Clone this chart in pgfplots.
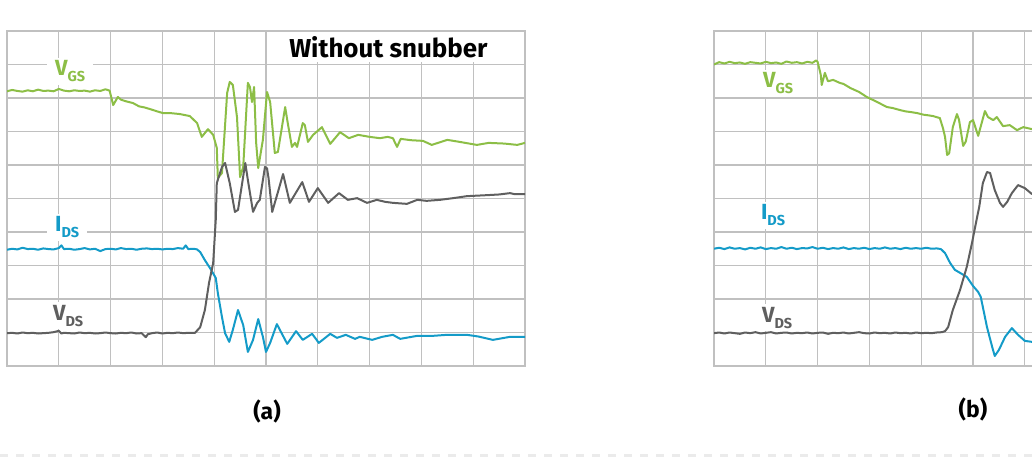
\documentclass[border=0pt]{standalone}
\usepackage{fontspec}
\setmainfont{Fira Sans}
\usepackage{pgfplots}
\pgfplotsset{compat=1.18}
\definecolor{vgs}{RGB}{140,190,70}
\definecolor{ids}{RGB}{20,155,200}
\definecolor{vds}{RGB}{95,95,95}
\definecolor{gridc}{RGB}{192,192,192}
\pgfplotsset{scopeax/.style={
  anchor=south west, width=518bp, height=335bp, scale only axis,
  xmin=0, xmax=10, ymin=0, ymax=10,
  xtick={0,...,10}, ytick={0,...,10},
  xticklabels={}, yticklabels={}, major tick length=0pt,
  grid=major, grid style={gridc, line width=1.2bp},
  axis line style={gridc, line width=1.2bp},
  every axis plot/.append style={line width=2bp, line join=round},
}}
\newcommand{\lab}[2]{{\bfseries\fontsize{22}{22}\selectfont #1\raisebox{-6bp}{\fontsize{14.5}{14.5}\selectfont #2}}}
\begin{document}
\begin{tikzpicture}
\useasboundingbox (0,0) rectangle (1032bp,459bp);
\clip (0,0) rectangle (1032bp,459bp);
\draw[black!8, line width=3bp, dash pattern=on 8bp off 8bp] (0,3bp) -- (1032bp,3bp);
% ---------------- panel (a)
\begin{axis}[scopeax, at={(7bp,93bp)}]
\addplot[vgs] coordinates {(0,8.20)(0.1,8.24)(0.2,8.21)(0.3,8.19)(0.4,8.23)(0.5,8.20)(0.6,8.25)(0.7,8.21)(0.8,8.22)(0.9,8.20)(1.0,8.27)(1.1,8.22)(1.2,8.20)(1.3,8.23)(1.4,8.21)(1.5,8.22)(1.6,8.19)(1.7,8.23)(1.8,8.21)(1.9,8.26)(1.98,8.22)
(2.05,7.79)(2.14,8.03)(2.2,7.95)(2.3,7.9)(2.43,7.85)(2.55,7.75)(2.65,7.72)(2.76,7.67)(2.9,7.6)(3.01,7.55)(3.15,7.55)(3.34,7.52)(3.53,7.46)(3.67,7.25)(3.76,6.84)(3.88,7.07)(3.98,6.9)(4.05,6.51)(4.07,5.61)(4.15,5.76)(4.25,8.15)(4.3,8.48)(4.36,8.39)(4.44,7.43)(4.5,5.64)(4.56,5.94)(4.65,8.45)(4.69,8.33)(4.73,7.88)(4.77,8.33)(4.81,6.66)(4.85,5.91)(4.94,6.75)(5.02,8.18)(5.08,7.88)(5.17,6.36)(5.23,6.39)(5.37,7.73)(5.42,7.25)(5.5,6.54)(5.56,6.66)(5.6,6.54)(5.71,7.25)(5.75,7.19)(5.81,6.69)(5.91,6.9)(6.08,7.13)(6.24,6.63)(6.43,6.98)(6.6,6.8)(6.78,6.9)(7.0,6.84)(7.2,6.8)(7.35,6.84)(7.45,6.8)(7.53,6.54)(7.6,6.78)(7.8,6.74)(8.03,6.72)(8.2,6.6)(8.5,6.75)(8.7,6.7)(9.07,6.6)(9.3,6.66)(9.6,6.64)(9.85,6.6)(10,6.66)};
\addplot[ids] coordinates {(0,3.47)(0.1,3.5)(0.2,3.48)(0.3,3.53)(0.4,3.49)(0.5,3.5)(0.6,3.47)(0.7,3.51)(0.8,3.49)(0.9,3.48)(1.0,3.52)(1.05,3.6)(1.1,3.49)(1.2,3.5)(1.3,3.47)(1.4,3.49)(1.5,3.52)(1.6,3.48)(1.7,3.5)(1.8,3.43)(1.9,3.49)(2.0,3.5)(2.1,3.48)(2.2,3.52)(2.3,3.49)(2.4,3.5)(2.5,3.47)(2.6,3.5)(2.7,3.51)(2.8,3.49)(2.9,3.5)(3.0,3.48)(3.1,3.5)(3.2,3.49)(3.3,3.52)(3.4,3.5)(3.45,3.6)(3.5,3.49)(3.6,3.5)(3.67,3.48)
(3.73,3.4)(3.82,3.16)(3.92,2.92)(4.03,2.63)(4.07,2.18)(4.15,1.46)(4.21,0.98)(4.29,0.72)(4.36,1.08)(4.46,1.67)(4.56,1.22)(4.65,0.42)(4.75,0.78)(4.85,1.4)(4.94,0.87)(5.0,0.42)(5.08,0.69)(5.21,1.25)(5.41,0.66)(5.58,1.04)(5.71,0.78)(5.89,0.96)(6.02,0.69)(6.24,0.96)(6.37,0.84)(6.54,0.93)(6.72,0.81)(6.81,0.87)(7.05,0.78)(7.24,0.87)(7.45,0.93)(7.59,0.81)(7.92,0.9)(8.22,0.9)(8.49,0.93)(8.88,0.93)(9.1,0.88)(9.38,0.78)(9.71,0.87)(10,0.87)};
\addplot[vds] coordinates {(0,0.98)(0.1,0.99)(0.2,0.97)(0.3,1.0)(0.4,0.98)(0.5,0.99)(0.6,0.97)(0.7,0.98)(0.8,0.99)(0.9,1.01)(1.0,1.05)(1.05,0.97)(1.1,0.99)(1.2,0.98)(1.3,0.97)(1.4,1.0)(1.5,0.98)(1.6,0.99)(1.7,0.97)(1.8,0.98)(1.9,1.0)(2.0,0.98)(2.1,0.97)(2.2,0.99)(2.3,0.98)(2.4,1.0)(2.5,0.97)(2.6,0.98)(2.68,0.86)(2.72,0.95)(2.8,0.98)(2.9,1.0)(3.0,0.97)(3.1,0.99)(3.2,0.98)(3.3,1.0)(3.4,0.98)(3.5,0.99)(3.63,0.99)
(3.73,1.16)(3.82,1.67)(3.9,2.48)(3.98,3.07)(4.03,4.36)(4.05,5.46)(4.15,5.94)(4.21,6.06)(4.3,5.46)(4.4,4.6)(4.46,4.66)(4.6,6.06)(4.65,5.55)(4.75,4.6)(4.83,4.87)(4.88,4.96)(4.98,5.94)(5.02,5.9)(5.05,5.6)(5.12,4.6)(5.33,5.73)(5.46,4.87)(5.7,5.49)(5.83,4.9)(6.0,5.31)(6.2,4.87)(6.41,5.16)(6.58,4.96)(6.76,5.01)(6.95,4.87)(7.14,4.96)(7.3,4.9)(7.45,4.87)(7.72,4.84)(7.92,4.96)(8.1,4.93)(8.36,4.96)(8.61,5.01)(8.88,5.07)(9.27,5.1)(9.5,5.12)(9.71,5.16)(9.8,5.13)(10,5.13)};
\node[anchor=base west, fill=white, inner xsep=8bp, inner ysep=3bp, text=vgs] at (axis cs:0.77,8.66) {\lab{V}{GS}};
\node[anchor=base west, fill=white, inner xsep=8bp, inner ysep=3bp, text=ids] at (axis cs:0.77,4.0) {\lab{I}{DS}};
\node[anchor=base west, fill=white, inner xsep=8bp, inner ysep=3bp, text=vds] at (axis cs:0.73,1.37) {\lab{V}{DS}};
\node[anchor=base west, fill=white, inner xsep=6bp, inner ysep=4bp] at (axis cs:5.33,9.22) {\fontsize{26}{26}\selectfont\bfseries Without snubber};
\end{axis}
% ---------------- panel (b)
\begin{axis}[scopeax, at={(714bp,93bp)}]
\addplot[vgs] coordinates {(0,9.0)(0.1,9.07)(0.2,9.03)(0.3,9.08)(0.4,9.04)(0.5,9.06)(0.6,9.02)(0.7,9.07)(0.8,9.05)(0.9,9.03)(1.0,9.08)(1.1,9.04)(1.2,9.06)(1.3,9.02)(1.4,9.09)(1.5,9.05)(1.6,9.07)(1.7,9.03)(1.8,9.08)(1.9,9.05)(1.97,9.12)(2.0,9.08)
(2.06,8.7)(2.08,8.39)(2.14,8.75)(2.2,8.5)(2.3,8.54)(2.43,8.45)(2.5,8.42)(2.63,8.3)(2.7,8.25)(2.8,8.18)(2.95,8.03)(3.07,7.94)(3.15,7.88)(3.25,7.8)(3.34,7.73)(3.45,7.7)(3.59,7.64)(3.7,7.6)(3.8,7.58)(3.92,7.55)(4.05,7.5)(4.15,7.48)(4.23,7.46)(4.36,7.4)(4.42,7.1)(4.46,6.84)(4.5,6.3)(4.54,6.35)(4.61,7.13)(4.69,7.52)(4.73,7.35)(4.81,6.57)(4.86,6.7)(4.94,7.28)(5.0,7.34)(5.1,6.87)(5.23,7.61)(5.29,7.43)(5.39,7.34)(5.46,7.43)(5.58,7.16)(5.71,7.19)(5.85,7.04)(5.97,7.13)(6.14,7.07)};
\addplot[ids] coordinates {(0,3.5)(0.1,3.53)(0.2,3.49)(0.3,3.54)(0.4,3.5)(0.5,3.52)(0.6,3.48)(0.7,3.53)(0.8,3.5)(0.9,3.54)(1.0,3.49)(1.1,3.52)(1.2,3.5)(1.3,3.55)(1.4,3.5)(1.5,3.53)(1.6,3.49)(1.7,3.52)(1.8,3.51)(1.9,3.55)(2.0,3.5)(2.1,3.53)(2.2,3.49)(2.3,3.52)(2.4,3.5)(2.5,3.54)(2.6,3.49)(2.7,3.52)(2.8,3.5)(2.9,3.53)(3.0,3.49)(3.1,3.52)(3.2,3.5)(3.3,3.54)(3.4,3.5)(3.5,3.52)(3.6,3.49)(3.7,3.53)(3.8,3.5)(3.9,3.52)(4.0,3.5)(4.1,3.53)(4.2,3.5)(4.3,3.51)(4.38,3.49)
(4.46,3.37)(4.56,3.07)(4.65,2.87)(4.75,2.78)(4.88,2.66)(5.0,2.39)(5.1,2.21)(5.15,2.06)(5.27,1.16)(5.37,0.57)(5.42,0.3)(5.5,0.48)(5.62,0.87)(5.75,1.13)(5.87,0.93)(6.0,0.75)(6.14,0.72)};
\addplot[vds] coordinates {(0,0.98)(0.1,1.0)(0.2,0.97)(0.3,1.0)(0.4,0.98)(0.5,0.96)(0.6,1.0)(0.7,0.98)(0.8,1.01)(0.9,0.97)(1.0,0.99)(1.1,1.01)(1.2,0.97)(1.3,0.99)(1.4,1.0)(1.5,0.97)(1.6,0.99)(1.7,0.98)(1.8,1.0)(1.9,0.97)(2.0,0.99)(2.1,1.0)(2.2,0.96)(2.3,0.99)(2.4,0.98)(2.5,1.0)(2.6,0.97)(2.7,0.99)(2.8,1.01)(2.9,0.98)(3.0,0.97)(3.1,1.0)(3.2,0.98)(3.3,0.99)(3.4,0.97)(3.5,1.0)(3.6,0.98)(3.7,0.99)(3.8,0.97)(3.9,1.0)(4.0,0.98)(4.1,0.99)(4.2,0.98)(4.3,1.0)(4.4,1.01)
(4.46,1.04)(4.52,1.16)(4.61,1.67)(4.75,2.27)(4.88,2.96)(4.98,3.67)(5.08,4.45)(5.12,4.75)(5.19,5.46)(5.27,5.79)(5.33,5.76)(5.42,5.25)(5.52,4.87)(5.58,4.75)(5.66,4.9)(5.75,5.16)(5.87,5.4)(6.0,5.31)(6.14,5.13)};
\node[anchor=base west, fill=white, inner xsep=8bp, inner ysep=3bp, text=vgs] at (axis cs:0.79,8.3) {\lab{V}{GS}};
\node[anchor=base west, fill=white, inner xsep=8bp, inner ysep=3bp, text=ids] at (axis cs:0.75,4.36) {\lab{I}{DS}};
\node[anchor=base west, fill=white, inner xsep=8bp, inner ysep=3bp, text=vds] at (axis cs:0.77,1.31) {\lab{V}{DS}};
\end{axis}
\node at (267bp,48bp) {\fontsize{23}{23}\selectfont\bfseries (a)};
\node at (973bp,50bp) {\fontsize{23}{23}\selectfont\bfseries (b)};
\end{tikzpicture}
\end{document}
